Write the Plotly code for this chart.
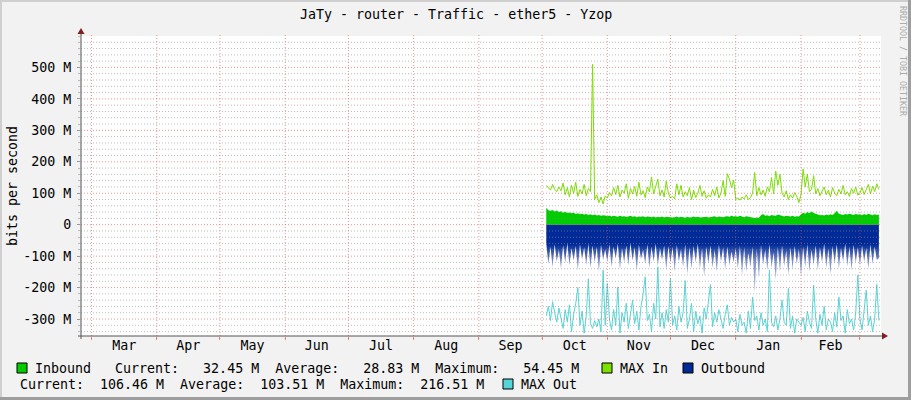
import pandas as pd
import plotly.graph_objects as go

# ---------------- data ----------------
title_text = "JaTy - router - Traffic - ether5 - Yzop"
y_title = "bits per second"
watermark = "RRDTOOL / TOBI OETIKER"

data_start = "2022-10-03"          # first daily sample
x_range = ["2022-02-24", "2023-03-11"]

month_starts = ["2022-03-01", "2022-04-01", "2022-05-01", "2022-06-01", "2022-07-01",
                "2022-08-01", "2022-09-01", "2022-10-01", "2022-11-01", "2022-12-01",
                "2023-01-01", "2023-02-01", "2023-03-01"]
month_labels = ["Mar", "Apr", "May", "Jun", "Jul", "Aug", "Sep", "Oct", "Nov", "Dec", "Jan", "Feb"]

y_tick_values = [-300, -200, -100, 0, 100, 200, 300, 400, 500]   # M
y_tick_labels = ["-300 M", "-200 M", "-100 M", "0", "100 M", "200 M", "300 M", "400 M", "500 M"]

# Inbound (M bit/s), daily, Oct 3 .. Mar 10
inbound_m = [
    54, 46, 44, 47, 42, 45, 40, 43, 38, 41, 37, 39, 36, 38, 34, 36, 33, 35, 32, 34, 31, 33, 30, 32, 29, 31, 28, 30, 29,
    27, 29, 26, 28, 27, 25, 28, 26, 27, 25, 26, 28, 25, 27, 24, 26, 25, 27, 24, 26, 25, 24, 26, 23, 25, 24, 26, 23, 25, 24,
    25, 23, 24, 26, 23, 25, 24, 22, 25, 23, 24, 26, 24, 25, 23, 24, 26, 25, 23, 24, 25, 27, 24, 26, 25, 24, 26, 27, 25, 28, 26,
    27, 25, 28, 26, 24, 27, 25, 23, 22, 21, 23, 22, 30, 34, 28, 30, 27, 31, 29, 28, 32, 30, 27, 26, 28, 27, 26, 28, 25, 27, 26,
    33, 38, 35, 40, 36, 42, 37, 34, 32, 30, 31, 29, 32, 30, 33, 31, 36, 44, 35, 33, 31, 34, 32, 35, 33, 31, 34, 32,
    33, 30, 34, 31, 35, 32, 30, 33, 31, 32,
]

max_in_m = [
    125, 118, 110, 128, 112, 105, 120, 108, 132, 95, 118, 88, 125, 100, 135, 90, 112, 98, 128, 92, 115, 105, 510, 80, 95, 70, 88, 66, 92,
    85, 102, 92, 118, 96, 125, 88, 110, 100, 130, 84, 115, 98, 122, 90, 135, 95, 108, 86, 120, 104, 152, 98, 125, 145, 92, 110, 88, 138, 100,
    85, 90, 82, 130, 95, 125, 88, 105, 92, 118, 80, 110, 86, 100, 125, 90, 108, 84, 95, 88, 112, 92, 120, 85, 100, 140, 90, 162, 145, 118, 142,
    80, 85, 78, 88, 82, 95, 80, 86, 100, 166, 92, 118, 95, 110, 90, 120, 105, 150, 98, 170, 125, 160, 100, 88, 108, 80, 95, 85, 102, 90, 70,
    95, 177, 120, 161, 105, 112, 156, 98, 115, 92, 108, 120, 95, 110, 88, 118, 100, 92, 112, 98, 125, 95, 105, 90, 115, 100, 120, 94,
    100, 118, 96, 110, 128, 98, 122, 105, 130, 112,
]

# Outbound / MAX Out are drawn below the axis (negative direction)
outbound_m = [
    60, 125, 70, 135, 62, 118, 80, 140, 65, 122, 58, 130, 75, 115, 68, 145, 62, 110, 72, 128, 60, 138, 66, 120, 70, 150, 64, 112, 78,
    118, 62, 135, 70, 108, 60, 142, 75, 120, 66, 130, 58, 115, 72, 148, 64, 110, 80, 125, 62, 138, 70, 118, 60, 132, 74, 112, 66, 145, 68,
    122, 70, 150, 65, 118, 78, 135, 62, 158, 72, 140, 68, 120, 60, 140, 75, 165, 70, 125, 66, 138, 80, 150, 64, 118, 72, 142, 70, 130, 85, 120,
    75, 140, 68, 160, 72, 150, 90, 135, 70, 216, 78, 170, 65, 128, 80, 145, 62, 138, 88, 175, 70, 150, 66, 132, 82, 160, 72, 142, 68, 125, 78,
    165, 70, 135, 62, 150, 80, 128, 66, 145, 72, 120, 60, 138, 76, 158, 68, 125, 62, 140, 74, 118, 60, 132, 70, 145, 64, 122, 72,
    130, 66, 118, 74, 140, 62, 125, 70, 112, 106,
]

max_out_m = [
    290, 260, 305, 245, 280, 310, 265, 300, 330, 270, 310, 255, 340, 285, 250, 200, 320, 275, 345, 290, 172, 315, 330, 305, 325, 300, 340, 145, 320,
    187, 300, 335, 270, 320, 198, 345, 280, 310, 250, 330, 290, 240, 315, 275, 335, 260, 220, 166, 305, 285, 340, 250, 300, 134, 325, 280, 330, 270, 310,
    170, 320, 290, 335, 260, 310, 280, 178, 330, 300, 250, 340, 275, 315, 290, 345, 265, 300, 235, 190, 325, 280, 310, 270, 300, 330, 285, 255, 320, 295, 310,
    300, 340, 285, 320, 310, 345, 275, 330, 230, 305, 290, 335, 280, 320, 300, 340, 145, 310, 325, 290, 335, 300, 240, 310, 320, 203, 330, 290, 345, 300, 310,
    320, 295, 340, 275, 310, 330, 192, 300, 345, 285, 320, 260, 335, 300, 310, 340, 280, 325, 230, 305, 290, 345, 270, 315, 300, 335, 280, 160,
    300, 335, 275, 208, 320, 290, 340, 300, 190, 305,
]

legend_line1 = "Inbound   Current:   32.45 M  Average:   28.83 M  Maximum:   54.45 M"
legend_line2 = "Current:  106.46 M  Average:  103.51 M  Maximum:  216.51 M"

# ---------------- styles ----------------
C_IN = "#00CC00"
C_MAXIN = "#7CE000"
C_OUT = "#002A97"
C_MAXOUT = "#56D6D6"
BACK = "#F2F2F2"
FONT = "DejaVu Sans Mono"
FS = 13.3
MINOR_GRID = "rgba(143,143,143,0.6)"
MAJOR_GRID = "rgba(222,79,79,0.6)"

W, H = 911, 400
L, R, T, B = 81, 30, 36, 64
PW, PH = W - L - R, H - T - B


def px(x):
    return (x - L) / PW


def py(y):
    return (H - B - y) / PH


dates = pd.date_range(data_start, periods=len(inbound_m), freq="D")
ms = pd.to_datetime(month_starts)
month_mids = [ms[i] + (ms[i + 1] - ms[i]) / 2 for i in range(len(month_labels))]

fig = go.Figure()
fig.add_trace(go.Scatter(x=dates, y=[v * 1e6 for v in inbound_m], mode="lines",
                         line=dict(width=0, color=C_IN), fill="tozeroy", fillcolor=C_IN,
                         hoverinfo="skip", showlegend=False))
fig.add_trace(go.Scatter(x=dates, y=[v * 1e6 for v in max_in_m], mode="lines",
                         line=dict(width=1, color=C_MAXIN), hoverinfo="skip", showlegend=False))
fig.add_trace(go.Scatter(x=dates, y=[-v * 1e6 for v in outbound_m], mode="lines",
                         line=dict(width=0, color=C_OUT), fill="tozeroy", fillcolor=C_OUT,
                         fillgradient=dict(type="vertical", start=-170e6, stop=0,
                                           colorscale=[[0, "rgba(0,42,151,0.40)"],
                                                       [0.30, "rgba(0,42,151,0.50)"],
                                                       [0.63, "rgba(0,42,151,1)"],
                                                       [1, "rgba(0,42,151,1)"]]),
                         hoverinfo="skip", showlegend=False))
fig.add_trace(go.Scatter(x=dates, y=[-v * 1e6 for v in max_out_m], mode="lines",
                         line=dict(width=1, color=C_MAXOUT), hoverinfo="skip", showlegend=False))

shapes = []
# frame shading
shapes.append(dict(type="rect", xref="paper", yref="paper", x0=px(0), x1=px(W), y0=py(0), y1=py(2),
                   line=dict(width=0), fillcolor="#CFCFCF", layer="below"))
shapes.append(dict(type="rect", xref="paper", yref="paper", x0=px(0), x1=px(2), y0=py(0), y1=py(H),
                   line=dict(width=0), fillcolor="#CFCFCF", layer="below"))
shapes.append(dict(type="rect", xref="paper", yref="paper", x0=px(W - 3), x1=px(W), y0=py(0), y1=py(H),
                   line=dict(width=0), fillcolor="#9E9E9E", layer="below"))
shapes.append(dict(type="rect", xref="paper", yref="paper", x0=px(0), x1=px(W), y0=py(H - 3), y1=py(H),
                   line=dict(width=0), fillcolor="#9E9E9E", layer="below"))

# grid (drawn on top of data, like rrdtool)
ylo, yhi = -354e6, 600e6
g = -340e6
while g <= 580e6 + 1:
    major = abs(round(g / 1e6)) % 100 == 0
    shapes.append(dict(type="line", xref="paper", yref="y", x0=0, x1=1, y0=g, y1=g,
                       line=dict(color=MAJOR_GRID if major else MINOR_GRID, width=1, dash="1px,2px"),
                       layer="above"))
    g += 20e6
for m in month_starts:
    shapes.append(dict(type="line", xref="x", yref="paper", x0=m, x1=m, y0=py(339), y1=py(33),
                       line=dict(color=MAJOR_GRID, width=1, dash="1px,2px"), layer="above"))

# axes lines and arrows
AX = "#555555"
ARROW = "#801F1F"
shapes.append(dict(type="line", xref="paper", yref="paper", x0=0, x1=0, y0=py(339), y1=py(31),
                   line=dict(color=AX, width=1), layer="above"))
shapes.append(dict(type="line", xref="paper", yref="paper", x0=px(78), x1=px(884), y0=0, y1=0,
                   line=dict(color=AX, width=1), layer="above"))
shapes.append(dict(type="path", xref="paper", yref="paper",
                   path=f"M {px(77.5)} {py(34)} L {px(84.5)} {py(34)} L {px(81)} {py(28)} Z",
                   fillcolor=ARROW, line=dict(width=0), layer="above"))
shapes.append(dict(type="path", xref="paper", yref="paper",
                   path=f"M {px(882)} {py(332.5)} L {px(882)} {py(339.5)} L {px(888)} {py(336)} Z",
                   fillcolor=ARROW, line=dict(width=0), layer="above"))


# legend squares
def square(x0, y0, color):
    return dict(type="rect", xref="paper", yref="paper", x0=px(x0), x1=px(x0 + 10), y0=py(y0 + 10), y1=py(y0),
                fillcolor=color, line=dict(color="#000000", width=1))


shapes += [square(17, 363, C_IN), square(602, 363, C_MAXIN), square(683, 363, C_OUT), square(503, 379, C_MAXOUT)]

ann = []


def text(x, y, s, size=FS, color="#000000", xanchor="left", angle=0):
    ann.append(dict(xref="paper", yref="paper", x=px(x), y=py(y), text=s.replace(" ", "\u00a0"),
                    showarrow=False, xanchor=xanchor, yanchor="middle", textangle=angle,
                    font=dict(family=FONT, size=size, color=color), borderpad=0))


text(456, 14, title_text, xanchor="center")
text(12, 186, y_title, xanchor="center", angle=-90)
text(903, 61, watermark, size=8.3, color="#ABABAB", xanchor="center", angle=90)
text(34, 368, legend_line1)
text(619, 368, "MAX In")
text(700, 368, "Outbound")
text(19, 384, legend_line2)
text(520, 384, "MAX Out")

fig.update_layout(
    width=W, height=H,
    margin=dict(l=L, r=R, t=T, b=B, pad=0),
    paper_bgcolor=BACK, plot_bgcolor="#FFFFFF",
    showlegend=False,
    shapes=shapes, annotations=ann,
    font=dict(family=FONT, size=FS, color="#000000"),
    xaxis=dict(type="date", range=x_range, tickvals=month_mids, ticktext=month_labels,
               ticks="", showgrid=False, zeroline=False, showline=False,
               tickfont=dict(family=FONT, size=FS, color="#000000"),
               minor=dict(tickvals=month_starts, ticks="outside", ticklen=3, tickcolor=MAJOR_GRID, showgrid=False),
               fixedrange=True),
    yaxis=dict(range=[ylo, yhi], tickvals=[v * 1e6 for v in y_tick_values], ticktext=y_tick_labels,
               ticks="outside", ticklen=3, tickcolor="#999999", showgrid=False, zeroline=False, showline=False,
               tickfont=dict(family=FONT, size=FS, color="#000000"), ticklabelstandoff=3,
               minor=dict(dtick=20e6, tick0=0, ticks="outside", ticklen=2, tickcolor="#BBBBBB", showgrid=False),
               fixedrange=True),
)

fig.write_html("out.html", config={"displayModeBar": False, "staticPlot": True},
               post_script="document.body.style.margin='0';")
